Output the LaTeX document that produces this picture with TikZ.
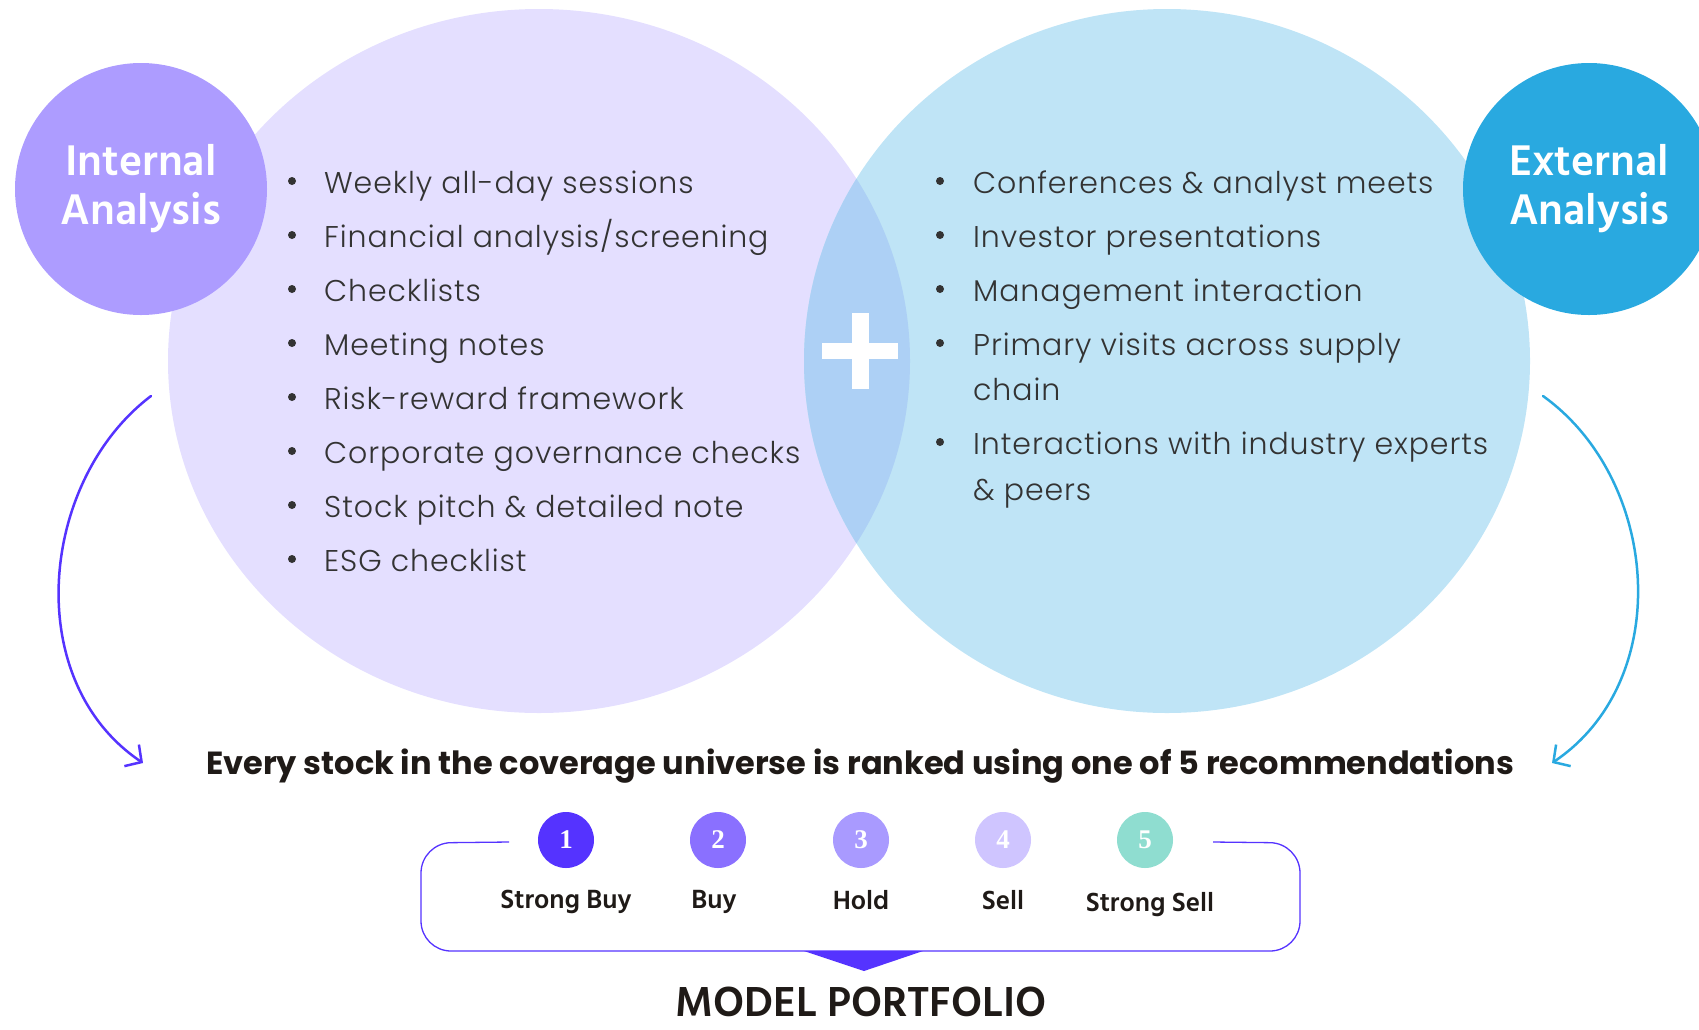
\documentclass[tikz,border=0pt]{standalone}
\usepackage{fontspec}
\setmainfont{Poppins}
\newfontfamily\bodyfont[LetterSpace=3]{Poppins Light}
\newfontfamily\headfont{Hind Siliguri}
\newfontfamily\numfont{Liberation Serif}
\usetikzlibrary{arrows.meta,positioning}

\definecolor{intbg}{HTML}{E4DFFF}
\definecolor{extbg}{HTML}{BFE4F6}
\definecolor{overlapbg}{HTML}{ADD0F5}
\definecolor{intdot}{HTML}{AD9CFF}
\definecolor{extdot}{HTML}{29A9E0}
\definecolor{violet}{HTML}{5533FF}
\definecolor{bodygray}{HTML}{333333}
\definecolor{inkblack}{HTML}{1F1A17}
\definecolor{rankA}{HTML}{5533FF}
\definecolor{rankB}{HTML}{8A70FF}
\definecolor{rankC}{HTML}{A99AFF}
\definecolor{rankD}{HTML}{CFC5FF}
\definecolor{rankE}{HTML}{8FDDD0}

\tikzset{
  bigdot/.style={circle,minimum size=252pt,inner sep=0pt,text=white,align=center,
    font=\headfont\bfseries\fontsize{44}{51}\selectfont},
  item/.style={anchor=base west,inner sep=0pt,text=bodygray,font=\bodyfont\fontsize{30}{35}\selectfont},
  dot/.style={circle,fill=bodygray,minimum size=8pt,inner sep=0pt},
  rank/.style={circle,minimum size=56pt,inner sep=0pt,text=white,
    font=\numfont\bfseries\fontsize{27}{30}\selectfont},
  ranklabel/.style={anchor=base,inner sep=0pt,text=inkblack,font=\headfont\bfseries\fontsize{27}{30}\selectfont},
  curvearrow/.style={line width=2.5pt,line cap=round,-{Straight Barb[length=12pt,width=26pt,line width=2.5pt]}}
}

\begin{document}
\begin{tikzpicture}[x=1pt,y=-1pt]
\useasboundingbox (0,0) rectangle (1699,1029);

% venn background
\fill[intbg] (539,361) ellipse [x radius=371,y radius=352];
\fill[extbg] (1167,361) ellipse [x radius=363,y radius=352];
\begin{scope}
  \clip (539,361) ellipse [x radius=371,y radius=352];
  \fill[overlapbg] (1167,361) ellipse [x radius=363,y radius=352];
\end{scope}
\fill[white] (822,343) rectangle (898,359);
\fill[white] (852,313) rectangle (869,389);

% title circles
\node[bigdot,fill=intdot] (intcirc) at (141,189) {Internal\\[-2pt]Analysis};
\node[bigdot,fill=extdot] (extcirc) at (1589,189) {External\\[-2pt]Analysis};

% internal list
\foreach \t [count=\i] in {Weekly all-day sessions,Financial analysis/screening,Checklists,
  Meeting notes,Risk-reward framework,Corporate governance checks,
  Stock pitch \& detailed note,ESG checklist}{
  \node[dot] (ib\i) at (292,181+54*\i-54) {};
  \node[item] (il\i) at (324,193+54*\i-54) {\t};
}

% external list
\node[dot] (eb1) at (940,181) {};
\node[item] (el1) at (973,193) {Conferences \& analyst meets};
\node[dot] (eb2) at (940,235) {};
\node[item] (el2) at (973,247) {Investor presentations};
\node[dot] (eb3) at (940,289) {};
\node[item] (el3) at (973,301) {Management interaction};
\node[dot] (eb4) at (940,343) {};
\node[item] (el4) at (973,355) {Primary visits across supply};
\node[item] (el4b) at (973,400) {chain};
\node[dot] (eb5) at (940,442) {};
\node[item] (el5) at (973,454) {Interactions with industry experts};
\node[item] (el5b) at (973,500) {\& peers};

% curved arrows
\coordinate (lstart) at (151,396);
\coordinate (lend) at (143,763);
\coordinate (rstart) at (1543,396);
\coordinate (rend) at (1552,763);
\draw[curvearrow,violet] (lstart) .. controls (40,480) and (20,680) .. (lend);
\draw[curvearrow,extdot] (rstart) .. controls (1660,480) and (1675,680) .. (rend);

\node[anchor=base,inner sep=0pt,text=inkblack,font=\fontseries{sb}\selectfont\fontsize{32}{36}\selectfont] (headline) at (860,774)
  {Every stock in the coverage universe is ranked using one of 5 recommendations};

% ranks
\node[rank,fill=rankA] (r1) at (566,840) {1};
\node[rank,fill=rankB] (r2) at (718,840) {2};
\node[rank,fill=rankC] (r3) at (861,840) {3};
\node[rank,fill=rankD] (r4) at (1003,840) {4};
\node[rank,fill=rankE] (r5) at (1145,840) {5};
\node[ranklabel] (l1) at (566,908) {Strong Buy};
\node[ranklabel] (l2) at (714,908) {Buy};
\node[ranklabel] (l3) at (861,909) {Hold};
\node[ranklabel] (l4) at (1003,909) {Sell};
\node[ranklabel] (l5) at (1150,911) {Strong Sell};

% frame
\coordinate (fl) at (509,842);
\coordinate (fr) at (1213,842);
\draw[violet,line width=1.3pt,rounded corners=30pt] (fl) -- (421,843) -- (421,951) -- (1300,951) -- (1300,843) -- (fr);
\fill[violet] (804,951) -- (923,951) -- (864,971) -- cycle;

\node[anchor=base,inner sep=0pt,text depth=0pt,text=inkblack,font=\headfont\bfseries\fontsize{43}{50}\selectfont] (model) at (861,1016) {MODEL PORTFOLIO};
\end{tikzpicture}
\end{document}
